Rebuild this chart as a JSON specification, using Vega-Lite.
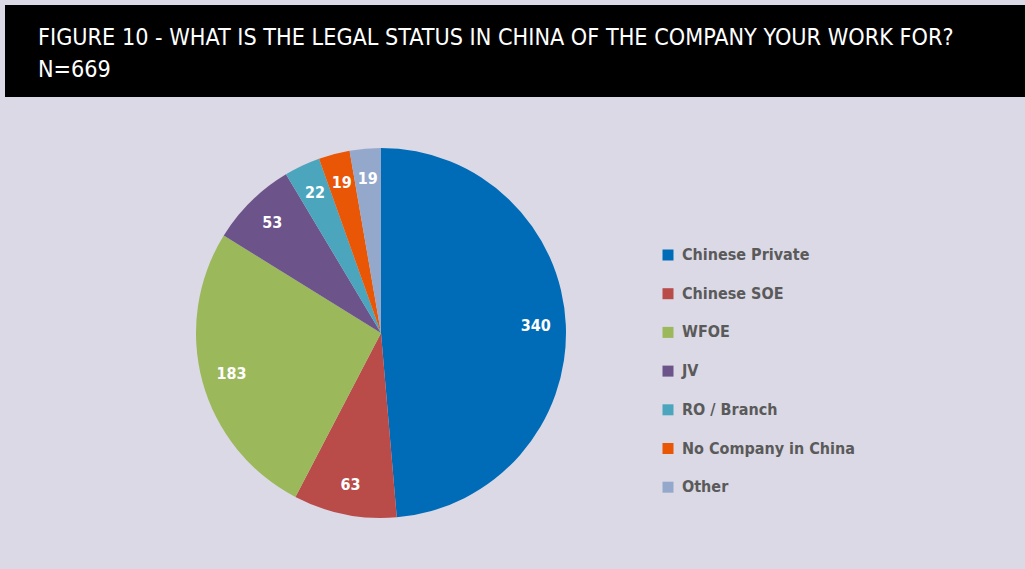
{
  "$schema": "https://vega.github.io/schema/vega-lite/v6.json",
  "background": "#dbd9e5",
  "padding": {"left": 5, "top": 5, "right": 0, "bottom": 0},
  "spacing": 0,
  "config": {"concat": {"spacing": 0}, "view": {"stroke": null}},
  "vconcat": [
    {
      "width": 1020,
      "height": 92,
      "view": {"fill": "#000000", "stroke": null},
      "title": {
        "text": ["FIGURE 10 - WHAT IS THE LEGAL STATUS IN CHINA OF THE COMPANY YOUR WORK FOR?", "N=669"],
        "anchor": "start",
        "frame": "group",
        "orient": "top",
        "offset": -77,
        "dx": 33,
        "color": "#ffffff",
        "font": "DejaVu Sans Condensed",
        "fontWeight": "normal",
        "fontSize": 23.2,
        "lineHeight": 32,
        "limit": 1000
      },
      "data": {"values": [{"t": ""}]},
      "mark": {"type": "text"},
      "encoding": {"text": {"field": "t"}}
    },
    {
      "width": 752,
      "height": 472,
      "data": {
        "values": [
          {"status": "Chinese Private", "count": 340, "k": 1},
          {"status": "Chinese SOE", "count": 63, "k": 2},
          {"status": "WFOE", "count": 183, "k": 3},
          {"status": "JV", "count": 53, "k": 4},
          {"status": "RO / Branch", "count": 22, "k": 5},
          {"status": "No Company in China", "count": 19, "k": 6},
          {"status": "Other", "count": 19, "k": 7}
        ]
      },
      "encoding": {
        "theta": {"field": "count", "type": "quantitative", "stack": true},
        "order": {"field": "k", "type": "quantitative"},
        "color": {
          "field": "status",
          "type": "nominal",
          "scale": {
            "domain": ["Chinese Private", "Chinese SOE", "WFOE", "JV", "RO / Branch", "No Company in China", "Other"],
            "range": ["#006cb8", "#b94b49", "#9bb85a", "#6c538a", "#4ba5bd", "#e85606", "#93a8cb"]
          },
          "legend": {
            "title": null,
            "orient": "none",
            "legendX": 655,
            "legendY": 242,
            "padding": 0,
            "symbolType": "square",
            "symbolSize": 121,
            "symbolStrokeWidth": 0,
            "symbolOpacity": 1,
            "labelFont": "DejaVu Sans Condensed",
            "labelFontWeight": "bold",
            "labelFontSize": 16,
            "labelColor": "#5a5a5a",
            "labelOffset": 6,
            "labelLimit": 300,
            "rowPadding": 22.7
          }
        }
      },
      "layer": [
        {"mark": {"type": "arc", "outerRadius": 185, "stroke": null}},
        {
          "mark": {"type": "text", "radius": 155, "font": "DejaVu Sans Condensed", "fontWeight": "bold", "fontSize": 16},
          "encoding": {"text": {"field": "count", "type": "quantitative"}, "color": {"value": "#ffffff"}}
        }
      ]
    }
  ]
}
